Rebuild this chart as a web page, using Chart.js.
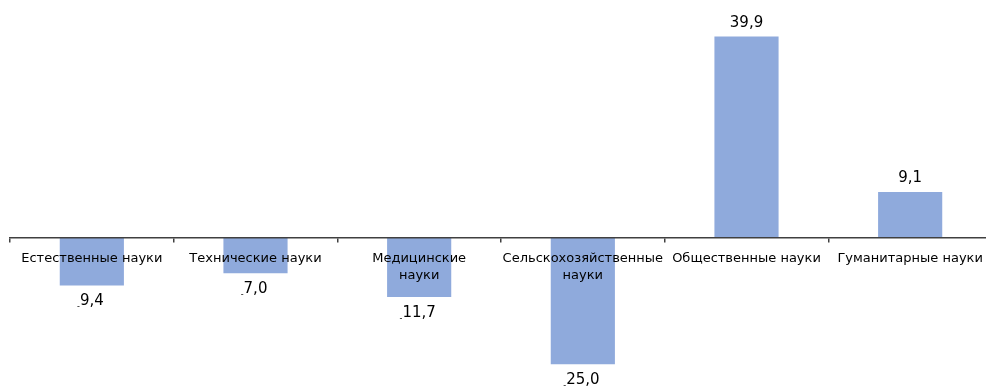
<!DOCTYPE html>
<html>
<head>
<meta charset="utf-8">
<script src="https://cdn.jsdelivr.net/npm/chart.js@4/dist/chart.umd.min.js"></script>
<style>
    html, body { margin: 0; padding: 0; background: #ffffff; overflow: hidden; }
    #wrap { position: relative; width: 1000px; height: 391px; }
</style>
</head>
<body>
<div id="wrap"><canvas id="bar-chart"></canvas></div>
<script>
const categories = [
    "Естественные науки",
    "Технические науки",
    ["Медицинские", "науки"],
    ["Сельскохозяйственные", "науки"],
    "Общественные науки",
    "Гуманитарные науки"
]
const values = [-9.4, -7.0, -11.7, -25.0, 39.9, 9.1]

const FONT = "'DejaVu Sans', Verdana, sans-serif"

const Utils = {
    formatValue(value) {
        return value.toFixed(1).replace(".", ",")
    }
}

// value labels, minus drawn small and low like in the original
const valueLabels = {
    id: "valueLabels",
    afterDatasetsDraw(chart) {
        const ctx = chart.ctx
        const meta = chart.getDatasetMeta(0)
        ctx.save()
        ctx.fillStyle = "#000000"
        ctx.textBaseline = "alphabetic"
        meta.data.forEach((bar, index) => {
            const value = values[index]
            const text = Utils.formatValue(Math.abs(value))
            ctx.font = "15px " + FONT
            const w = ctx.measureText(text).width
            const x = bar.x - w / 2
            if (value >= 0) {
                ctx.textAlign = "left"
                ctx.fillText(text, x, bar.y - 10)
            } else {
                const y = bar.y + 20
                ctx.textAlign = "left"
                ctx.fillText(text, x, y)
                ctx.font = "8px " + FONT
                ctx.textAlign = "right"
                ctx.fillText("-", x, y + 4)
            }
        })
        ctx.restore()
    }
}

const ctx = document.getElementById("bar-chart")

let barChart = new Chart(ctx, {
    type: "bar",
    data: {
        labels: categories,
        datasets: [{
            data: values,
            backgroundColor: "#8faadc",
            borderWidth: 0,
            barPercentage: 0.49,
            categoryPercentage: 0.8
        }]
    },
    options: {
        responsive: true,
        maintainAspectRatio: false,
        animation: false,
        layout: {
            padding: { left: 10, right: 8, top: 0, bottom: 0 }
        },
        plugins: {
            legend: { display: false },
            tooltip: { enabled: false }
        },
        scales: {
            y: {
                display: false,
                min: -30.3,
                max: 47.13
            },
            x: {
                position: { y: 0 },
                afterFit(scale) { scale.height = 0 },
                border: { display: true, color: "#404040", width: 1.5, z: 1 },
                grid: {
                    drawOnChartArea: false,
                    drawTicks: true,
                    tickLength: 4,
                    color: "#404040",
                    lineWidth: 1.5,
                    z: 1
                },
                ticks: {
                    z: 2,
                    color: "#000000",
                    padding: 8,
                    maxRotation: 0,
                    autoSkip: false,
                    font: { family: FONT, size: 13, lineHeight: 1.3 }
                }
            }
        }
    },
    plugins: [valueLabels]
})
</script>
</body>
</html>
